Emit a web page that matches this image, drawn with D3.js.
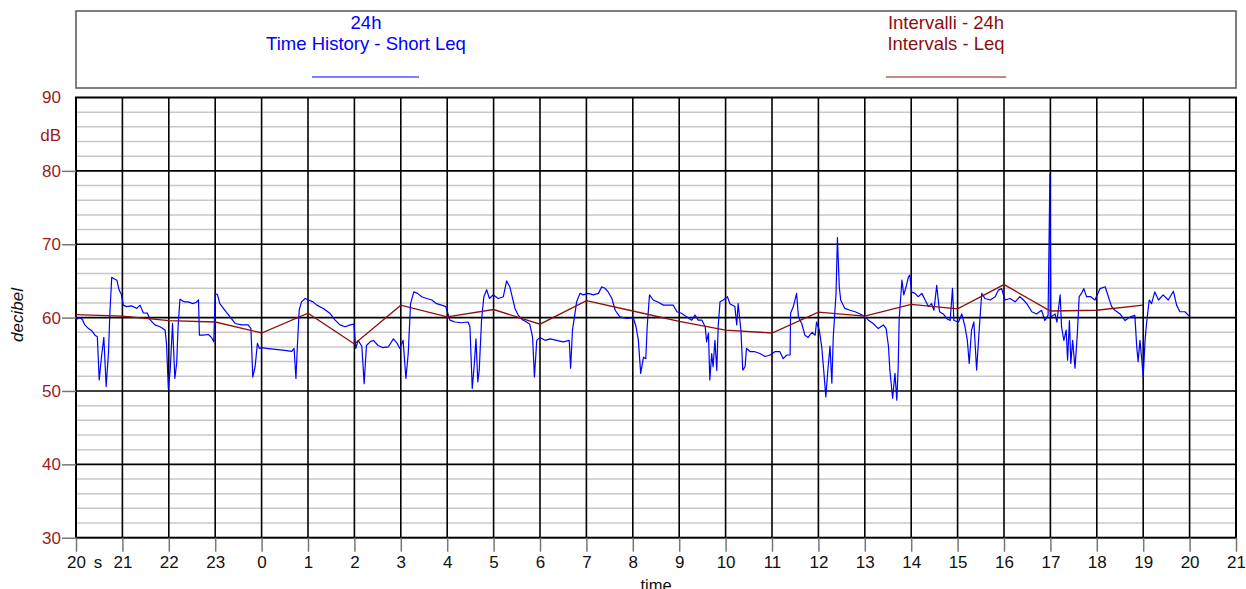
<!DOCTYPE html>
<html>
<head>
<meta charset="utf-8">
<script src="https://cdn.jsdelivr.net/npm/d3@7"></script>
<style>
  body { margin: 0; background: #fff; }
  svg { display: block; font-family: "Liberation Sans", Arial, sans-serif; }
</style>
</head>
<body>
<svg id="chart" width="1246" height="589"></svg>
<script>

/* ── Data: hours counted from 20:00 ── */
const hourLabels = ['20','21','22','23','0','1','2','3','4','5','6','7','8','9','10','11','12','13','14','15','16','17','18','19','20','21'];
const yTicks = [30, 40, 50, 60, 70, 80, 90];

/* Intervals - Leq (one value per hour, 20:00 .. 19:00) */
const leqHours  = [0,1,2,3,4,5,6,7,8,9,10,11,12,13,14,15,16,17,18,19,20,21,22,23];
const leqValues = [60.4,60.2,59.6,59.4,57.9,60.6,56.4,61.7,60.1,61.1,59.1,62.3,60.9,59.5,58.3,57.9,60.75,60.2,61.8,61.2,64.5,60.9,61.0,61.7];

/* Time History - Short Leq */
const shortHours = [
  0,0.09,0.14,0.19,0.27,0.34,0.41,0.46,0.50,0.55,0.60,0.65,0.70,0.73,0.77,0.82,0.88,0.93,0.98,
  1.02,1.09,1.20,1.31,1.38,1.45,1.54,1.59,1.70,1.81,1.92,1.95,1.99,2.03,2.08,2.13,2.17,2.20,2.24,
  2.33,2.42,2.52,2.59,2.64,2.66,2.74,2.85,2.92,2.97,3.00,3.05,3.10,3.21,3.32,3.43,3.57,3.71,3.77,
  3.81,3.86,3.91,3.95,4.00,4.11,4.25,4.40,4.54,4.65,4.70,4.74,4.77,4.81,4.86,4.94,5.01,5.11,5.19,
  5.33,5.47,5.58,5.69,5.80,5.91,5.99,6.03,6.08,6.16,6.21,6.26,6.34,6.41,6.51,6.62,6.73,6.84,6.91,
  6.98,7.05,7.11,7.16,7.21,7.28,7.36,7.45,7.56,7.67,7.77,7.88,7.97,8.06,8.17,8.31,8.45,8.49,8.54,
  8.58,8.62,8.66,8.69,8.74,8.79,8.85,8.91,8.99,9.10,9.21,9.28,9.35,9.41,9.46,9.53,9.61,9.71,9.78,
  9.84,9.88,9.93,10.00,10.11,10.22,10.36,10.50,10.63,10.66,10.70,10.79,10.86,10.93,11.04,11.15,
  11.26,11.33,11.40,11.47,11.55,11.62,11.72,11.87,12.01,12.07,12.12,12.17,12.23,12.28,12.31,12.36,
  12.44,12.55,12.66,12.76,12.87,12.95,13.05,13.16,13.27,13.34,13.41,13.49,13.56,13.59,13.63,13.66,
  13.70,13.73,13.77,13.81,13.84,13.88,13.95,14.04,14.09,14.20,14.24,14.27,14.33,14.37,14.42,14.45,
  14.53,14.63,14.74,14.85,14.96,15.06,15.17,15.24,15.32,15.39,15.40,15.46,15.53,15.57,15.64,15.71,
  15.78,15.86,15.93,15.96,16.02,16.07,16.12,16.16,16.21,16.25,16.29,16.32,16.38,16.41,16.45,16.48,
  16.57,16.68,16.79,16.90,17.00,17.08,17.18,17.29,17.40,17.46,17.51,17.54,17.60,17.65,17.69,17.72,
  17.74,17.80,17.84,17.89,17.94,17.97,18.01,18.08,18.15,18.23,18.30,18.37,18.44,18.49,18.55,18.61,
  18.69,18.77,18.84,18.89,18.92,19.02,19.09,19.16,19.21,19.25,19.30,19.35,19.41,19.47,19.52,19.59,
  19.70,19.81,19.88,19.95,20.02,20.13,20.24,20.34,20.42,20.49,20.60,20.70,20.81,20.88,20.95,20.99,
  21.01,21.10,21.14,21.21,21.24,21.29,21.34,21.37,21.41,21.44,21.48,21.53,21.58,21.62,21.67,21.72,
  21.78,21.87,21.96,22.07,22.18,22.25,22.32,22.39,22.50,22.61,22.72,22.82,22.86,22.89,22.93,22.97,
  23.00,23.04,23.07,23.13,23.18,23.25,23.33,23.43,23.54,23.65,23.72,23.79,23.90,23.99
];
const shortValues = [
  59.75,60.0,59.7,59.0,58.5,58.2,57.6,57.4,51.5,54.7,57.3,50.6,55.2,60.6,65.5,65.3,65.1,63.75,63.1,
  61.7,61.5,61.6,61.25,61.7,60.65,60.6,59.75,59.0,58.75,58.3,56.5,50.35,52.8,59.2,51.7,53.8,58.75,62.5,
  62.15,62.15,61.9,62.1,62.4,57.6,57.6,57.7,57.3,56.7,63.3,63.1,61.9,61.0,60.1,59.2,59.0,59.0,58.5,
  51.9,53.3,56.5,55.8,55.9,55.8,55.7,55.6,55.5,55.4,55.8,51.7,56.0,61.0,62.15,62.6,62.4,62.15,61.7,
  61.25,60.6,59.7,59.0,58.75,59.0,59.1,55.8,56.9,56.1,51.0,56.2,56.7,56.9,56.2,55.9,56.0,57.1,56.6,
  55.8,56.9,51.7,55.1,61.9,63.5,63.3,62.85,62.6,62.4,61.9,61.7,61.5,59.65,59.4,59.3,59.4,58.75,50.35,
  53.3,57.1,51.25,52.8,59.65,62.85,63.8,62.6,63.1,62.6,62.85,65.0,64.2,62.6,61.25,60.35,59.75,59.4,59.1,
  57.3,51.9,56.9,57.3,56.9,57.1,56.9,56.7,56.9,53.1,58.3,62.15,63.3,63.1,63.3,63.1,
  63.3,64.2,64.0,63.5,62.6,61.0,60.1,59.9,60.0,58.75,56.9,52.4,54.6,54.4,58.75,63.1,
  62.4,62.1,61.7,61.7,61.7,60.8,60.6,60.1,59.65,60.35,59.65,59.65,58.75,56.7,57.9,51.5,
  55.1,53.3,56.9,52.8,58.75,62.15,62.4,62.85,61.9,61.5,59.0,61.9,58.3,52.85,53.3,55.8,
  55.35,55.35,55.1,54.7,54.9,55.35,55.35,54.4,54.9,54.9,60.6,61.5,63.3,60.1,59.2,57.6,
  57.3,58.0,57.6,59.4,58.3,56.1,52.4,49.2,53.3,56.1,51.05,57.3,63.3,70.9,64.2,62.4,
  61.25,61.0,60.8,60.5,60.1,59.65,59.2,58.5,59.0,58.5,56.1,52.85,49.0,52.4,48.75,53.3,
  59.7,65.1,63.1,64.2,65.55,65.8,63.5,63.3,62.85,63.3,62.4,61.5,61.9,61.0,64.4,60.8,
  60.5,59.85,59.6,64.0,59.6,59.4,60.5,58.75,56.9,53.75,58.3,59.4,52.85,58.75,63.3,62.6,
  62.4,62.85,63.75,63.95,62.4,62.6,62.15,62.85,62.4,61.9,60.8,60.5,61.0,59.6,60.3,79.6,
  60.1,60.5,59.4,63.1,58.75,56.9,58.3,54.2,59.6,53.75,56.9,53.1,57.75,62.85,63.3,63.95,
  62.85,62.85,62.4,63.95,64.2,62.85,61.5,61.0,60.5,59.6,60.1,60.3,56.1,54.0,56.9,54.2,
  51.9,56.9,59.1,62.4,61.9,63.5,62.4,63.1,62.4,63.6,61.7,60.8,60.8,60.2
];

/* ── Layout ── */
const svg = d3.select('#chart');
const plot = { left: 76, right: 1236, top: 97.5, bottom: 537.7 };

const xScale = d3.scaleLinear().domain([0, 25]).range([plot.left, plot.right]);
const yScale = d3.scaleLinear().domain([30, 90]).range([plot.bottom, plot.top]);

const blue = '#0000ff';
const red  = '#8b1010';
const labelRed = '#9b1c1c';

/* ── Legend box ── */
svg.append('rect')
  .attr('x', plot.left).attr('y', 11)
  .attr('width', plot.right - plot.left).attr('height', 77)
  .attr('fill', 'none').attr('stroke', '#555').attr('stroke-width', 1.5);

const legend = [
  { cx: 366, color: blue, lines: ['24h', 'Time History - Short Leq'], x0: 312, x1: 419 },
  { cx: 946, color: red,  lines: ['Intervalli - 24h', 'Intervals - Leq'], x0: 886, x1: 1006 }
];
legend.forEach(l => {
  l.lines.forEach((t, i) => {
    svg.append('text')
      .attr('x', l.cx).attr('y', 28.5 + i * 21)
      .attr('text-anchor', 'middle')
      .attr('font-size', '18.5px')
      .attr('fill', l.color)
      .text(t);
  });
  svg.append('line')
    .attr('x1', l.x0).attr('x2', l.x1)
    .attr('y1', 77).attr('y2', 77)
    .attr('stroke', l.color).attr('stroke-width', 1.2);
});

/* ── Grid ── */
const grid = svg.append('g');
const minor = d3.range(32, 90, 2).filter(v => v % 10 !== 0);

grid.selectAll('line.minor')
  .data(minor)
  .join('line')
  .attr('class', 'minor')
  .attr('x1', plot.left).attr('x2', plot.right)
  .attr('y1', d => yScale(d)).attr('y2', d => yScale(d))
  .attr('stroke', '#c8c8c8').attr('stroke-width', 1.5);

grid.selectAll('line.major')
  .data(yTicks.filter(v => v > 30 && v < 90))
  .join('line')
  .attr('class', 'major')
  .attr('x1', plot.left).attr('x2', plot.right)
  .attr('y1', d => yScale(d)).attr('y2', d => yScale(d))
  .attr('stroke', '#000').attr('stroke-width', 1.6);

grid.selectAll('line.vert')
  .data(d3.range(1, 25))
  .join('line')
  .attr('class', 'vert')
  .attr('x1', d => xScale(d)).attr('x2', d => xScale(d))
  .attr('y1', plot.top).attr('y2', plot.bottom)
  .attr('stroke', '#000').attr('stroke-width', 1.6);

/* plot frame */
svg.append('rect')
  .attr('x', plot.left).attr('y', plot.top)
  .attr('width', plot.right - plot.left).attr('height', plot.bottom - plot.top)
  .attr('fill', 'none').attr('stroke', '#000').attr('stroke-width', 2);

/* ── Axes ── */
const xAxis = svg.append('g')
  .attr('transform', `translate(0,${plot.bottom})`)
  .call(d3.axisBottom(xScale)
    .tickValues(d3.range(0, 26))
    .tickFormat(i => hourLabels[i])
    .tickSize(14).tickPadding(4));
xAxis.select('.domain').remove();
xAxis.selectAll('line').attr('stroke', '#777').attr('stroke-width', 1.5);
xAxis.selectAll('text')
  .attr('font-family', '"Liberation Sans", Arial, sans-serif')
  .attr('font-size', '17px').attr('fill', '#111');

const yAxis = svg.append('g')
  .attr('transform', `translate(${plot.left},0)`)
  .call(d3.axisLeft(yScale)
    .tickValues(yTicks)
    .tickFormat(d3.format('d'))
    .tickSize(14).tickPadding(1));
yAxis.select('.domain').remove();
yAxis.selectAll('line').attr('stroke', '#777').attr('stroke-width', 1.5)
  .filter(d => d === 90).remove();
yAxis.selectAll('text')
  .attr('font-family', '"Liberation Sans", Arial, sans-serif')
  .attr('font-size', '17px').attr('fill', labelRed);

/* extra axis labels */
svg.append('text')
  .attr('x', 61).attr('y', 141)
  .attr('text-anchor', 'end')
  .attr('font-size', '17px').attr('fill', labelRed)
  .text('dB');

svg.append('text')
  .attr('x', 98).attr('y', 568)
  .attr('text-anchor', 'middle')
  .attr('font-size', '17px').attr('fill', '#111')
  .text('s');

svg.append('text')
  .attr('transform', 'translate(22.5,315) rotate(-90)')
  .attr('text-anchor', 'middle')
  .attr('font-size', '17px').attr('font-style', 'italic').attr('fill', '#111')
  .text('decibel');

svg.append('text')
  .attr('x', (plot.left + plot.right) / 2).attr('y', 591)
  .attr('text-anchor', 'middle')
  .attr('font-size', '16.5px').attr('fill', '#111')
  .text('time');

/* ── Series ── */
const shortData = shortHours.map((h, i) => ({ h, v: shortValues[i] }));
const leqData   = leqHours.map((h, i) => ({ h, v: leqValues[i] }));

const line = d3.line()
  .x(d => xScale(d.h))
  .y(d => yScale(d.v));

svg.append('path')
  .datum(shortData)
  .attr('d', line)
  .attr('fill', 'none')
  .attr('stroke', blue)
  .attr('stroke-width', 1.2)
  .attr('stroke-linejoin', 'round');

svg.append('path')
  .datum(leqData)
  .attr('d', line)
  .attr('fill', 'none')
  .attr('stroke', red)
  .attr('stroke-width', 1.3);
</script>
</body>
</html>
